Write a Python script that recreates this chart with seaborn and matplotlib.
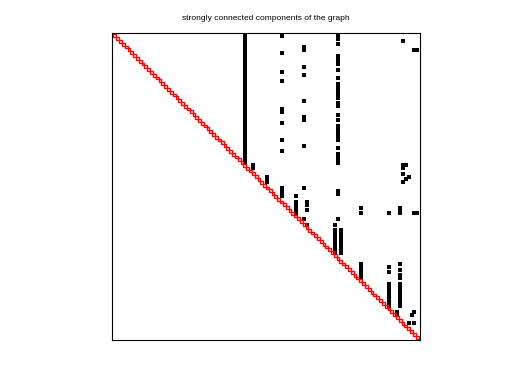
import matplotlib
matplotlib.use("Agg")
import matplotlib.pyplot as plt
from matplotlib.patches import Rectangle
import seaborn as sns
import pandas as pd

# ---- data ----
n_nodes = 108
# every strongly connected component is a single node (1x1 red boxes)
component_sizes = [1] * n_nodes

# vertical runs of nonzeros: column, first row, last row (1-based)
run_col = [47, 50, 55,
           60, 60, 60, 60, 60, 60, 60, 60, 60,
           65, 65,
           68, 68, 68, 68, 68, 68, 68, 68,
           69, 69, 69,
           79, 79,
           80, 80, 80, 80, 80, 80, 80, 80, 80, 80, 80, 80, 80, 80,
           81,
           88, 88, 88,
           98, 98, 98, 98,
           101,
           102, 102, 102, 102, 102,
           103, 103, 103, 103,
           104, 104,
           105, 105, 106,
           107, 107, 107, 107,
           108, 108]
run_start = [1, 47, 51,
             1, 7, 14, 17, 27, 32, 38, 42, 55,
             58, 60,
             5, 12, 15, 24, 30, 40, 55, 66,
             60, 63, 68,
             68, 70,
             1, 4, 8, 13, 16, 18, 25, 29, 31, 33, 41, 43, 56, 66,
             70,
             62, 64, 82,
             64, 83, 85, 89,
             99,
             62, 82, 84, 86, 89,
             3, 47, 50, 53,
             47, 52,
             51, 103, 100,
             6, 64, 99, 103,
             6, 64]
run_end = [46, 48, 53,
           1, 7, 14, 17, 28, 32, 38, 42, 58,
           58, 64,
           6, 12, 15, 24, 31, 40, 55, 66,
           61, 63, 68,
           68, 78,
           2, 4, 11, 13, 16, 23, 26, 29, 31, 38, 41, 46, 57, 66,
           78,
           62, 64, 87,
           64, 83, 85, 97,
           100,
           64, 82, 84, 87, 97,
           3, 48, 50, 53,
           47, 52,
           51, 103, 100,
           6, 64, 99, 103,
           6, 64]

title_text = "strongly connected components of the graph"

# ---- build nonzero table ----
rows, cols = [], []
for c, r0, r1 in zip(run_col, run_start, run_end):
    for r in range(r0, r1 + 1):
        rows.append(r)
        cols.append(c)
df = pd.DataFrame({"col": cols, "row": rows})

sns.set_style("white")
plt.rcParams["font.family"] = ["Liberation Sans", "DejaVu Sans"]

fig = plt.figure(figsize=(5.12, 3.84), dpi=100)
ax = fig.add_axes([112 / 512, 44 / 384, 308 / 512, 307 / 384])

sns.scatterplot(data=df, x="col", y="row", marker="s", s=4.8, color="black",
                linewidth=0, ax=ax, legend=False)

start = 0
for size in component_sizes:
    ax.add_patch(Rectangle((start + 0.5, start + 0.5), size, size, fill=False,
                           edgecolor="red", linewidth=1.0))
    start += size

ax.set_xlim(0, n_nodes + 1)
ax.set_ylim(n_nodes + 1, 0)
ax.set_xticks([])
ax.set_yticks([])
ax.set_xlabel("")
ax.set_ylabel("")
for sp in ax.spines.values():
    sp.set_visible(True)
    sp.set_color("black")
    sp.set_linewidth(0.8)
ax.set_title(title_text, fontsize=6, pad=9, color="black")

fig.savefig("out.png", dpi=100, facecolor="white")
